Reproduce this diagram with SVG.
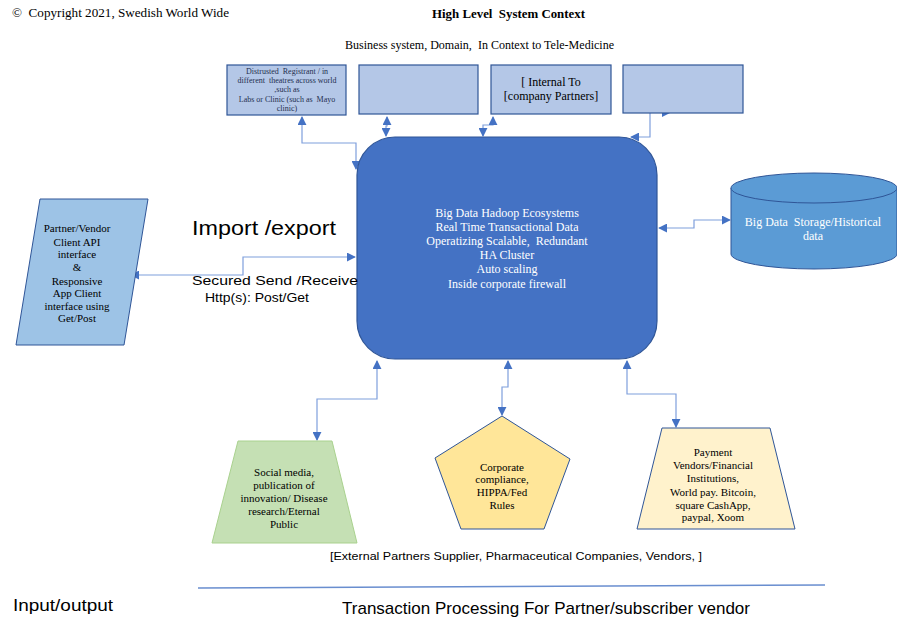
<svg xmlns="http://www.w3.org/2000/svg" width="897" height="631" viewBox="0 0 897 631" xml:space="preserve">
<defs>
<marker id="ah" viewBox="0 0 10 10" refX="9" refY="5" markerWidth="9" markerHeight="9" markerUnits="userSpaceOnUse" orient="auto-start-reverse">
<path d="M0,0 L10,5 L0,10 z" fill="#4472c4"/>
</marker>
<style>
text{white-space:pre;}
.sf{font-family:"Liberation Serif","Times New Roman",serif;}
.ss{font-family:"Liberation Sans",Arial,sans-serif;}
.box{fill:#b4c7e7;stroke:#2f5597;stroke-width:1.2;}
.con{fill:none;stroke:#7f9fdc;stroke-width:1.2;}
.w{fill:#ffffff;}
</style>
</defs>
<rect width="897" height="631" fill="#ffffff"/>

<text class="sf" x="12" y="17" font-size="12.5" textLength="217" lengthAdjust="spacingAndGlyphs">©  Copyright 2021, Swedish World Wide</text>
<text class="sf" x="432" y="18" font-size="12.5" font-weight="bold" textLength="153" lengthAdjust="spacingAndGlyphs">High Level  System Context</text>
<text class="sf" x="345" y="49" font-size="12" textLength="269" lengthAdjust="spacingAndGlyphs">Business system, Domain,  In Context to Tele-Medicine</text>

<g id="connectors">
<path class="con" d="M302,117 V143 H356 V169" marker-start="url(#ah)" marker-end="url(#ah)"/>
<path class="con" d="M387,117 V126 H386 V136" marker-start="url(#ah)" marker-end="url(#ah)"/>
<path class="con" d="M493,117 V125 H483 V136" marker-start="url(#ah)" marker-end="url(#ah)"/>
<path class="con" d="M650,113 V137 H631" marker-end="url(#ah)"/>
<path d="M662,109 L670,113 L662,117 z" fill="#4472c4"/>
<path class="con" d="M131,275 H243 V257 H355" marker-start="url(#ah)" marker-end="url(#ah)"/>
<path class="con" d="M659,228 H694 V220 H730" marker-start="url(#ah)" marker-end="url(#ah)"/>
<path class="con" d="M377,361 V399 H317 V440" marker-start="url(#ah)" marker-end="url(#ah)"/>
<path class="con" d="M508,361 V387 H502 V415" marker-start="url(#ah)" marker-end="url(#ah)"/>
<path class="con" d="M627,361 V394 H676 V427" marker-start="url(#ah)" marker-end="url(#ah)"/>
</g>

<g id="box1">
<rect class="box" x="227" y="65" width="119" height="50"/>
<g class="sf" font-size="8" fill="#1f2f4f" text-anchor="middle">
<text x="287" y="74">Distrusted  Registrant / in</text>
<text x="287" y="83">different  theatres across world</text>
<text x="287" y="92">,such as</text>
<text x="287" y="102">Labs or Clinic (such as  Mayo</text>
<text x="287" y="111">clinic)</text>
</g>
</g>
<g id="box2"><rect class="box" x="359" y="65" width="119" height="49"/></g>
<g id="box3">
<rect class="box" x="491" y="65" width="120" height="49"/>
<text class="sf" x="551" y="86" font-size="12" text-anchor="middle">[ Internal To</text>
<text class="sf" x="551" y="100" font-size="12" text-anchor="middle">[company Partners]</text>
</g>
<g id="box4"><rect class="box" x="623" y="65" width="120" height="48"/></g>

<g id="core">
<rect x="357" y="137" width="300" height="222" rx="38" fill="#4472c4" stroke="#2f5597" stroke-width="1.2"/>
<g class="sf w" font-size="12" text-anchor="middle">
<text x="507" y="217">Big Data Hadoop Ecosystems</text>
<text x="507" y="231">Real Time Transactional Data</text>
<text x="507" y="245">Operatizing Scalable,  Redundant</text>
<text x="507" y="259">HA Cluster</text>
<text x="507" y="273">Auto scaling</text>
<text x="507" y="288">Inside corporate firewall</text>
</g>
</g>

<g id="client">
<polygon points="40,199 148,199 124,345 16,345" fill="#9dc3e6" stroke="#2f5597" stroke-width="1"/>
<g class="sf" font-size="11" text-anchor="middle">
<text x="77" y="232">Partner/Vendor</text>
<text x="77" y="246">Client API</text>
<text x="77" y="258">interface</text>
<text x="77" y="271">&amp;</text>
<text x="77" y="285">Responsive</text>
<text x="77" y="297">App Client</text>
<text x="77" y="310">interface using</text>
<text x="77" y="322">Get/Post</text>
</g>
</g>

<text class="ss" x="192" y="235" font-size="21" textLength="144" lengthAdjust="spacingAndGlyphs">Import /export</text>
<text class="ss" x="192" y="285" font-size="13.5" textLength="166" lengthAdjust="spacingAndGlyphs">Secured Send /Receive</text>
<text class="ss" x="205" y="302" font-size="13.5" textLength="104" lengthAdjust="spacingAndGlyphs">Http(s): Post/Get</text>

<g id="storage">
<path d="M731,188 V254 A83,15 0 0 0 897,254 V188" fill="#5b9bd5" stroke="#2f5597" stroke-width="1"/>
<ellipse cx="814" cy="188" rx="83" ry="15" fill="#5b9bd5" stroke="#2f5597" stroke-width="1"/>
<text class="sf w" x="813" y="226" font-size="12" text-anchor="middle">Big Data  Storage/Historical</text>
<text class="sf w" x="813" y="240" font-size="12" text-anchor="middle">data</text>
</g>

<g id="social">
<polygon points="238,441 332,441 357,543 212,543" fill="#c5e0b4" stroke="#a9d18e" stroke-width="1"/>
<g class="sf" font-size="11" text-anchor="middle">
<text x="284" y="476">Social media,</text>
<text x="284" y="489">publication of</text>
<text x="284" y="502">innovation/ Disease</text>
<text x="284" y="515">research/Eternal</text>
<text x="284" y="528">Public</text>
</g>
</g>

<g id="compliance">
<polygon points="502,416 570,459 544,529 461,529 435,458" fill="#ffe699" stroke="#2f5597" stroke-width="1"/>
<g class="sf" font-size="11" text-anchor="middle">
<text x="502" y="471">Corporate</text>
<text x="502" y="483">compliance,</text>
<text x="502" y="496">HIPPA/Fed</text>
<text x="502" y="509">Rules</text>
</g>
</g>

<g id="payment">
<polygon points="662,428 770,428 795,529 637,529" fill="#fff2cc" stroke="#2f5597" stroke-width="1"/>
<g class="sf" font-size="11" text-anchor="middle">
<text x="713" y="456">Payment</text>
<text x="713" y="469">Vendors/Financial</text>
<text x="713" y="482">Institutions,</text>
<text x="713" y="496">World pay. Bitcoin,</text>
<text x="713" y="509">square CashApp,</text>
<text x="713" y="521">paypal, Xoom</text>
</g>
</g>

<text class="ss" x="330" y="560" font-size="11" textLength="372" lengthAdjust="spacingAndGlyphs">[External Partners Supplier, Pharmaceutical Companies, Vendors, ]</text>
<line x1="198" y1="588" x2="825" y2="585" stroke="#4472c4" stroke-width="1.5" opacity="0.8"/>
<text class="ss" x="13" y="611" font-size="16" textLength="100" lengthAdjust="spacingAndGlyphs">Input/output</text>
<text class="ss" x="342" y="614" font-size="17" textLength="408" lengthAdjust="spacingAndGlyphs">Transaction Processing For Partner/subscriber vendor</text>
</svg>
